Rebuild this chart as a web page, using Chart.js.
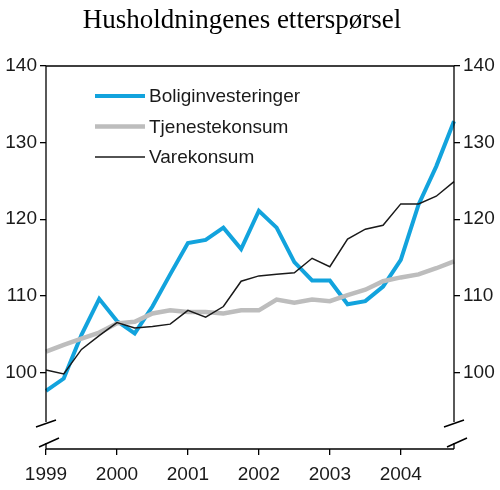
<!DOCTYPE html>
<html>
<head>
<meta charset="utf-8">
<script src="https://cdn.jsdelivr.net/npm/chart.js@4/dist/chart.umd.min.js"></script>
<style>
  html, body { margin: 0; padding: 0; background: #fff; }
  #wrap { width: 500px; height: 490px; }
</style>
</head>
<body>
<div id="wrap"><canvas id="chart" width="500" height="490"></canvas></div>
<script>
// kvartaler 1999K1 - 2004K4
const quarters = [
  '1999K1', '1999K2', '1999K3', '1999K4',
  '2000K1', '2000K2', '2000K3', '2000K4',
  '2001K1', '2001K2', '2001K3', '2001K4',
  '2002K1', '2002K2', '2002K3', '2002K4',
  '2003K1', '2003K2', '2003K3', '2003K4',
  '2004K1', '2004K2', '2004K3', '2004K4'
]
const boliginvesteringer = [
  97.6, 99.2, 104.9, 109.6, 106.7, 105.1, 108.6, 112.8,
  116.9, 117.3, 118.9, 116.1, 121.1, 118.9, 114.4, 112.0,
  112.0, 108.9, 109.3, 111.2, 114.7, 121.9, 126.9, 132.8
]
const tjenestekonsum = [
  102.7, 103.6, 104.4, 105.2, 106.4, 106.6, 107.7, 108.1,
  107.9, 107.9, 107.7, 108.1, 108.1, 109.5, 109.1, 109.5,
  109.3, 110.1, 110.8, 111.9, 112.4, 112.8, 113.6, 114.5
]
const varekonsum = [
  100.3, 99.8, 103.0, 104.8, 106.5, 105.8, 106.0, 106.3,
  108.1, 107.2, 108.6, 111.9, 112.6, 112.8, 113.0, 114.9,
  113.8, 117.4, 118.7, 119.2, 122.0, 122.0, 123.0, 124.9
]
const yTicks = [100, 110, 120, 130, 140]
const yMin = 90
const yMax = 140

const seriesNames = ['Boliginvesteringer', 'Tjenestekonsum', 'Varekonsum']
const colors = ['#12a3dd', '#bdbdbd', '#1a1a1a']
const widths = [4, 4.5, 1.5]

const sansFont = "'Liberation Sans', Arial, sans-serif"

// aksebrudd, ramme, tittel og forklaring tegnes for hand
const decorPlugin = {
  id: 'decor',
  afterDraw(chart) {
    const { ctx, chartArea: a } = chart
    ctx.save()
    ctx.strokeStyle = '#000'
    ctx.lineWidth = 1.3

    ctx.beginPath()
    ctx.moveTo(a.left, a.top)
    ctx.lineTo(a.right, a.top)
    ctx.moveTo(a.left, a.bottom)
    ctx.lineTo(a.right, a.bottom)
    ;[a.left, a.right].forEach(x => {
      ctx.moveTo(x, a.top)
      ctx.lineTo(x, a.bottom - 27)
      ctx.moveTo(x, a.bottom - 6)
      ctx.lineTo(x, a.bottom)
    })
    ctx.stroke()

    // skraastreker
    ctx.lineWidth = 1.5
    ctx.beginPath()
    ;[a.left, a.right].forEach(x => {
      ctx.moveTo(x - 10, a.bottom - 22)
      ctx.lineTo(x + 10, a.bottom - 29)
      ctx.moveTo(x - 7, a.bottom - 2)
      ctx.lineTo(x + 13, a.bottom - 11)
    })
    ctx.stroke()

    // tittel
    ctx.fillStyle = '#000'
    ctx.font = "27px 'Liberation Serif', 'Times New Roman', serif"
    ctx.textAlign = 'center'
    ctx.textBaseline = 'alphabetic'
    ctx.fillText('Husholdningenes etterspørsel', 242, 28)

    // forklaring
    ctx.font = '19px ' + sansFont
    ctx.textAlign = 'left'
    ctx.textBaseline = 'middle'
    seriesNames.forEach((name, i) => {
      const y = a.top + 30 + i * 30.5
      ctx.strokeStyle = colors[i]
      ctx.lineWidth = widths[i]
      ctx.beginPath()
      ctx.moveTo(a.left + 49, y)
      ctx.lineTo(a.left + 99, y)
      ctx.stroke()
      ctx.fillStyle = '#1a1a1a'
      ctx.fillText(name, a.left + 103, y + 1)
    })
    ctx.restore()
  }
}

function yAxis(position, width) {
  return {
    type: 'linear',
    position,
    min: yMin,
    max: yMax,
    afterBuildTicks: scale => { scale.ticks = yTicks.map(v => ({ value: v })) },
    afterFit: scale => { scale.width = width },
    border: { display: false },
    grid: { drawOnChartArea: false, drawTicks: true, tickLength: 6, color: '#000', lineWidth: 1.3 },
    ticks: { color: '#1a1a1a', padding: 3, font: { family: sansFont, size: 19 } }
  }
}

new Chart(document.getElementById('chart'), {
  type: 'line',
  data: {
    labels: quarters,
    datasets: [
      { label: seriesNames[0], data: boliginvesteringer, borderColor: colors[0], borderWidth: widths[0], order: 2 },
      { label: seriesNames[1], data: tjenestekonsum, borderColor: colors[1], borderWidth: widths[1], order: 1 },
      { label: seriesNames[2], data: varekonsum, borderColor: colors[2], borderWidth: widths[2], order: 0 }
    ]
  },
  options: {
    responsive: false,
    animation: false,
    devicePixelRatio: 1,
    layout: { padding: { top: 66, left: 0, right: 0, bottom: 0 } },
    elements: { point: { radius: 0 }, line: { tension: 0, borderJoinStyle: 'miter' } },
    plugins: { legend: { display: false }, title: { display: false }, tooltip: { enabled: false } },
    scales: {
      x: {
        type: 'category',
        offset: false,
        afterFit: scale => { scale.height = 41 },
        border: { display: false },
        grid: {
          drawOnChartArea: false,
          drawTicks: true,
          tickLength: 6,
          lineWidth: 1.3,
          color: c => (c.index % 4 === 0 ? '#000' : 'rgba(0,0,0,0)')
        },
        ticks: {
          autoSkip: false,
          maxRotation: 0,
          padding: 8,
          color: '#1a1a1a',
          font: { family: sansFont, size: 19 },
          callback: (v, i) => (i % 4 === 0 ? quarters[i].slice(0, 4) : '')
        }
      },
      y: yAxis('left', 46),
      y2: yAxis('right', 46)
    }
  },
  plugins: [decorPlugin]
})
</script>
</body>
</html>
